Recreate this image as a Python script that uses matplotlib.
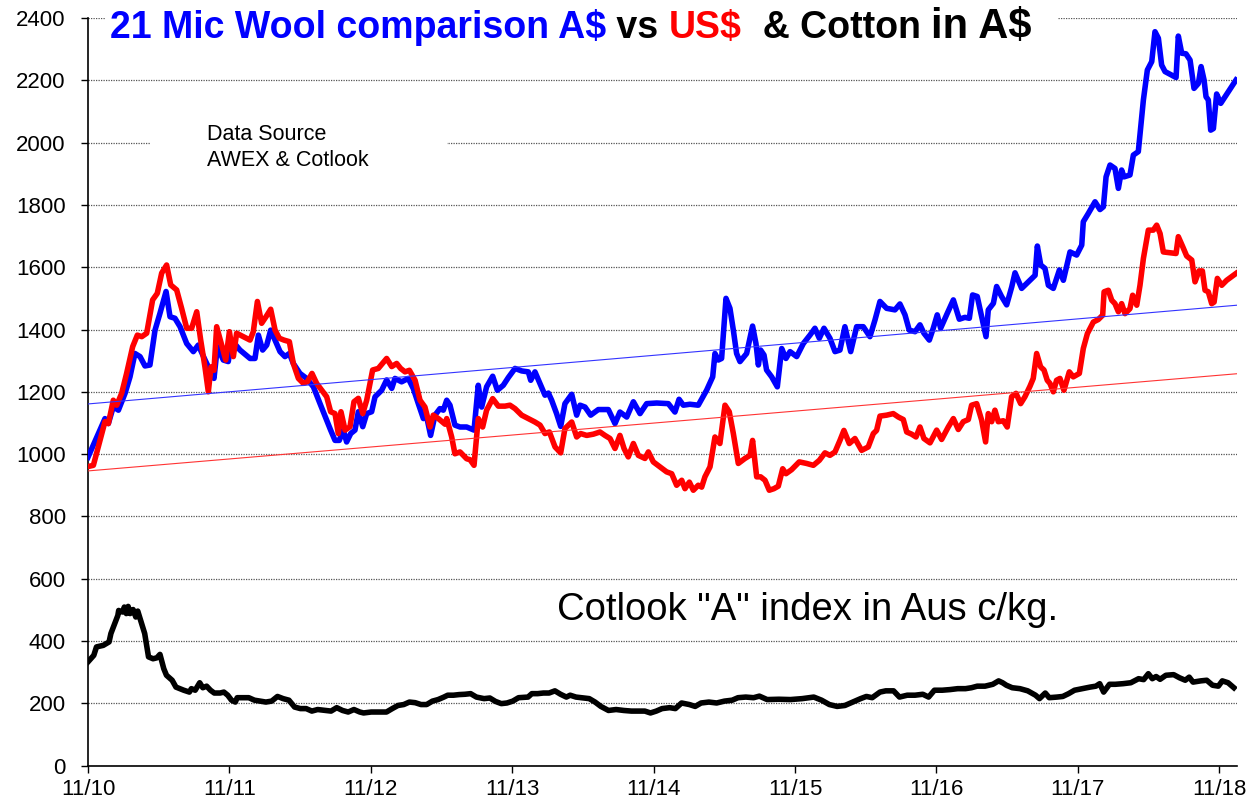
import matplotlib
matplotlib.use("Agg")
import matplotlib.pyplot as plt
from matplotlib.patches import Rectangle

plt.rcParams['font.family'] = ['Liberation Sans', 'DejaVu Sans']

# ---- data (x = years since Nov 2010) ----
years_labels = ["11/10", "11/11", "11/12", "11/13", "11/14", "11/15", "11/16", "11/17", "11/18"]
x_end = 8.126

wool_aud_t = [0.000, 0.120, 0.144, 0.179, 0.215, 0.262, 0.297, 0.332, 0.368, 0.403, 0.438, 0.474, 0.509, 0.552,
              0.580, 0.615, 0.651, 0.698, 0.745, 0.780, 0.830, 0.870, 0.891, 0.915, 0.957, 0.992, 1.016, 1.075,
              1.146, 1.181, 1.205, 1.235, 1.264, 1.292, 1.323, 1.358, 1.393, 1.424, 1.452, 1.499, 1.546, 1.594,
              1.641, 1.688, 1.716, 1.747, 1.777, 1.806, 1.829, 1.858, 1.888, 1.912, 1.943, 1.971, 2.006, 2.030,
              2.077, 2.112, 2.148, 2.171, 2.218, 2.265, 2.301, 2.336, 2.372, 2.395, 2.423, 2.454, 2.489, 2.513,
              2.537, 2.560, 2.595, 2.631, 2.678, 2.730, 2.760, 2.784, 2.819, 2.862, 2.895, 2.937, 2.973, 3.020,
              3.067, 3.114, 3.131, 3.161, 3.197, 3.232, 3.256, 3.279, 3.314, 3.343, 3.373, 3.421, 3.456, 3.480,
              3.515, 3.555, 3.609, 3.680, 3.727, 3.762, 3.810, 3.857, 3.904, 3.951, 4.022, 4.104, 4.151, 4.180,
              4.210, 4.257, 4.316, 4.375, 4.418, 4.434, 4.458, 4.481, 4.512, 4.540, 4.564, 4.587, 4.611, 4.658,
              4.700, 4.724, 4.741, 4.757, 4.781, 4.799, 4.835, 4.875, 4.906, 4.936, 4.965, 5.012, 5.059, 5.106,
              5.141, 5.172, 5.205, 5.247, 5.283, 5.318, 5.353, 5.394, 5.436, 5.483, 5.530, 5.566, 5.601, 5.648,
              5.707, 5.742, 5.778, 5.808, 5.849, 5.884, 5.912, 5.950, 5.978, 6.006, 6.030, 6.077, 6.120, 6.162,
              6.202, 6.233, 6.256, 6.289, 6.320, 6.351, 6.367, 6.403, 6.426, 6.461, 6.497, 6.533, 6.556, 6.603,
              6.639, 6.698, 6.714, 6.738, 6.768, 6.792, 6.827, 6.870, 6.898, 6.945, 6.992, 7.028, 7.039, 7.075,
              7.122, 7.157, 7.181, 7.200, 7.228, 7.263, 7.287, 7.310, 7.327, 7.369, 7.393, 7.428, 7.445, 7.464,
              7.492, 7.523, 7.546, 7.570, 7.593, 7.617, 7.695, 7.711, 7.735, 7.765, 7.794, 7.822, 7.853, 7.872,
              7.893, 7.907, 7.923, 7.940, 7.959, 7.982, 8.011, 8.119]
wool_aud = [990, 1114, 1098, 1152, 1141, 1195, 1248, 1323, 1313, 1283, 1286, 1398, 1452, 1522,
            1441, 1436, 1409, 1355, 1329, 1350, 1300, 1262, 1243, 1345, 1302, 1297, 1366, 1334,
            1307, 1307, 1382, 1334, 1350, 1398, 1366, 1329, 1313, 1323, 1291, 1259, 1243, 1216,
            1162, 1109, 1077, 1044, 1044, 1077, 1039, 1066, 1077, 1136, 1088, 1130, 1136, 1184,
            1205, 1238, 1211, 1243, 1232, 1243, 1210, 1162, 1114, 1120, 1060, 1125, 1146, 1141,
            1173, 1157, 1093, 1087, 1087, 1077, 1221, 1151, 1216, 1250, 1205, 1221, 1246, 1275,
            1267, 1264, 1237, 1264, 1226, 1189, 1196, 1173, 1130, 1089, 1162, 1192, 1125, 1157,
            1151, 1125, 1143, 1143, 1098, 1135, 1119, 1168, 1130, 1162, 1164, 1162, 1135, 1176,
            1157, 1160, 1157, 1205, 1248, 1323, 1302, 1307, 1500, 1468, 1398, 1323, 1297, 1323,
            1411, 1355, 1286, 1334, 1318, 1270, 1248, 1216, 1339, 1307, 1329, 1313, 1355, 1382,
            1404, 1372, 1404, 1372, 1329, 1334, 1409, 1329, 1409, 1409, 1377, 1431, 1490, 1468,
            1463, 1482, 1447, 1398, 1393, 1415, 1388, 1366, 1404, 1447, 1404, 1452, 1495, 1433,
            1439, 1436, 1511, 1506, 1441, 1377, 1463, 1484, 1538, 1506, 1479, 1537, 1582, 1532,
            1548, 1574, 1668, 1607, 1596, 1542, 1532, 1591, 1558, 1649, 1639, 1671, 1746, 1773,
            1810, 1785, 1794, 1890, 1928, 1917, 1853, 1912, 1890, 1896, 1960, 1971, 2051, 2137,
            2233, 2260, 2356, 2335, 2249, 2228, 2209, 2342, 2287, 2285, 2265, 2174, 2190, 2244,
            2201, 2147, 2137, 2040, 2045, 2156, 2126, 2201]

wool_usd_t = [0.000, 0.038, 0.120, 0.144, 0.179, 0.203, 0.238, 0.273, 0.316, 0.349, 0.380, 0.415, 0.457, 0.490,
              0.521, 0.556, 0.585, 0.627, 0.662, 0.698, 0.733, 0.769, 0.797, 0.827, 0.851, 0.870, 0.891, 0.910,
              0.945, 0.974, 1.000, 1.028, 1.051, 1.099, 1.146, 1.169, 1.198, 1.228, 1.259, 1.292, 1.323, 1.353,
              1.386, 1.424, 1.452, 1.488, 1.523, 1.551, 1.584, 1.617, 1.653, 1.688, 1.716, 1.747, 1.770, 1.789,
              1.818, 1.853, 1.881, 1.912, 1.943, 1.971, 2.013, 2.053, 2.112, 2.148, 2.183, 2.211, 2.242, 2.273,
              2.313, 2.348, 2.383, 2.419, 2.442, 2.478, 2.525, 2.537, 2.572, 2.595, 2.631, 2.678, 2.702, 2.730,
              2.760, 2.791, 2.819, 2.862, 2.902, 2.949, 2.984, 3.020, 3.067, 3.114, 3.161, 3.197, 3.232, 3.263,
              3.303, 3.343, 3.373, 3.421, 3.456, 3.484, 3.527, 3.574, 3.621, 3.656, 3.692, 3.727, 3.762, 3.791,
              3.821, 3.857, 3.892, 3.939, 3.963, 3.998, 4.045, 4.092, 4.128, 4.163, 4.199, 4.222, 4.253, 4.281,
              4.316, 4.340, 4.363, 4.399, 4.434, 4.469, 4.505, 4.535, 4.564, 4.599, 4.646, 4.682, 4.700, 4.729,
              4.757, 4.788, 4.818, 4.851, 4.882, 4.913, 4.936, 4.976, 5.030, 5.082, 5.130, 5.172, 5.212, 5.247,
              5.283, 5.318, 5.346, 5.384, 5.424, 5.471, 5.518, 5.554, 5.577, 5.601, 5.648, 5.695, 5.731, 5.766,
              5.790, 5.825, 5.856, 5.884, 5.912, 5.955, 6.002, 6.037, 6.084, 6.120, 6.155, 6.190, 6.226, 6.249,
              6.285, 6.320, 6.348, 6.367, 6.391, 6.414, 6.438, 6.473, 6.501, 6.532, 6.563, 6.596, 6.626, 6.662,
              6.685, 6.709, 6.737, 6.761, 6.784, 6.803, 6.827, 6.850, 6.874, 6.902, 6.940, 6.968, 7.011, 7.039,
              7.068, 7.110, 7.145, 7.176, 7.186, 7.216, 7.240, 7.263, 7.287, 7.310, 7.334, 7.369, 7.388, 7.417,
              7.440, 7.464, 7.499, 7.534, 7.558, 7.582, 7.605, 7.695, 7.711, 7.742, 7.770, 7.806, 7.829, 7.857,
              7.881, 7.900, 7.923, 7.947, 7.964, 7.987, 8.018, 8.053, 8.119]
wool_usd = [960, 964, 1104, 1098, 1173, 1157, 1195, 1259, 1345, 1382, 1377, 1388, 1495, 1516,
            1581, 1607, 1543, 1527, 1468, 1404, 1404, 1457, 1366, 1280, 1200, 1280, 1269, 1409,
            1350, 1302, 1393, 1313, 1388, 1377, 1366, 1393, 1490, 1420, 1441, 1465, 1398, 1372,
            1366, 1361, 1291, 1243, 1227, 1232, 1259, 1227, 1205, 1184, 1136, 1130, 1066, 1136,
            1077, 1088, 1168, 1179, 1130, 1173, 1270, 1275, 1307, 1281, 1291, 1275, 1264, 1269,
            1237, 1173, 1151, 1087, 1125, 1114, 1096, 1114, 1055, 1001, 1007, 985, 982, 964,
            1114, 1087, 1141, 1178, 1154, 1154, 1157, 1146, 1125, 1114, 1103, 1093, 1066, 1071,
            1023, 1004, 1082, 1103, 1055, 1066, 1060, 1064, 1071, 1060, 1050, 1018, 1060, 1018,
            991, 1034, 996, 986, 1007, 975, 959, 943, 937, 900, 916, 889, 910, 884,
            900, 894, 927, 959, 1055, 1034, 1157, 1136, 1066, 970, 986, 996, 1044, 927,
            927, 916, 884, 889, 897, 953, 937, 950, 975, 970, 964, 980, 1004, 996,
            1007, 1044, 1076, 1034, 1050, 1012, 1023, 1066, 1076, 1122, 1125, 1130, 1119, 1111,
            1071, 1064, 1055, 1087, 1050, 1036, 1077, 1047, 1087, 1114, 1079, 1104, 1111, 1157,
            1162, 1109, 1039, 1130, 1104, 1141, 1104, 1107, 1087, 1184, 1195, 1162, 1184, 1218,
            1243, 1323, 1280, 1270, 1237, 1227, 1200, 1237, 1243, 1205, 1264, 1248, 1259, 1339,
            1387, 1424, 1432, 1446, 1521, 1526, 1494, 1483, 1457, 1483, 1451, 1467, 1510, 1478,
            1542, 1628, 1719, 1719, 1735, 1708, 1649, 1644, 1698, 1666, 1636, 1623, 1553, 1588,
            1588, 1526, 1521, 1483, 1488, 1564, 1542, 1558, 1580]

cotton_t = [0.000, 0.041, 0.060, 0.108, 0.149, 0.162, 0.189, 0.211, 0.217, 0.244, 0.257, 0.271, 0.284, 0.298,
            0.319, 0.338, 0.352, 0.379, 0.401, 0.428, 0.460, 0.487, 0.509, 0.536, 0.555, 0.595, 0.622, 0.677,
            0.717, 0.731, 0.758, 0.790, 0.812, 0.839, 0.866, 0.893, 0.934, 0.961, 0.988, 1.015, 1.042, 1.055,
            1.096, 1.137, 1.177, 1.218, 1.258, 1.299, 1.340, 1.380, 1.421, 1.461, 1.502, 1.543, 1.583, 1.624,
            1.678, 1.719, 1.759, 1.800, 1.840, 1.881, 1.922, 1.949, 2.003, 2.057, 2.111, 2.152, 2.192, 2.233,
            2.273, 2.314, 2.355, 2.395, 2.436, 2.476, 2.517, 2.544, 2.585, 2.625, 2.666, 2.706, 2.747, 2.801,
            2.842, 2.882, 2.923, 2.963, 3.004, 3.045, 3.112, 3.139, 3.180, 3.221, 3.261, 3.302, 3.342, 3.383,
            3.410, 3.451, 3.491, 3.545, 3.586, 3.627, 3.681, 3.735, 3.789, 3.843, 3.897, 3.938, 3.978, 4.019,
            4.060, 4.114, 4.154, 4.198, 4.253, 4.294, 4.336, 4.391, 4.446, 4.501, 4.556, 4.597, 4.652, 4.707,
            4.748, 4.803, 4.886, 4.968, 5.051, 5.133, 5.188, 5.243, 5.298, 5.353, 5.409, 5.464, 5.505, 5.546,
            5.601, 5.642, 5.697, 5.739, 5.794, 5.849, 5.904, 5.945, 5.986, 6.041, 6.096, 6.151, 6.206, 6.248,
            6.289, 6.344, 6.399, 6.440, 6.468, 6.495, 6.536, 6.591, 6.646, 6.701, 6.729, 6.770, 6.798, 6.853,
            6.894, 6.935, 6.977, 7.032, 7.087, 7.128, 7.155, 7.183, 7.224, 7.265, 7.320, 7.375, 7.430, 7.466,
            7.499, 7.527, 7.554, 7.582, 7.623, 7.678, 7.719, 7.760, 7.788, 7.815, 7.870, 7.912, 7.953, 7.994,
            8.022, 8.063, 8.104]
cotton = [333, 354, 381, 386, 397, 424, 456, 482, 498, 493, 509, 488, 511, 488,
          501, 477, 496, 456, 424, 349, 343, 346, 357, 311, 290, 274, 252, 242,
          236, 247, 242, 266, 250, 255, 242, 233, 233, 236, 226, 210, 204, 218,
          218, 218, 210, 207, 204, 207, 222, 215, 210, 188, 183, 183, 175, 180,
          177, 175, 186, 177, 172, 180, 172, 169, 172, 172, 172, 183, 193, 196,
          204, 202, 196, 196, 207, 212, 220, 226, 226, 228, 229, 231, 220, 215,
          217, 206, 199, 201, 207, 218, 220, 231, 231, 233, 233, 240, 229, 220,
          226, 220, 218, 215, 204, 190, 177, 180, 177, 175, 175, 175, 169, 175,
          183, 186, 183, 201, 196, 190, 201, 204, 201, 207, 210, 218, 220, 218,
          223, 212, 213, 212, 215, 220, 210, 196, 190, 193, 204, 215, 222, 218,
          236, 240, 240, 220, 226, 226, 229, 220, 242, 242, 244, 247, 247, 250,
          255, 255, 261, 272, 266, 258, 250, 247, 240, 226, 215, 233, 218, 220,
          222, 231, 242, 247, 252, 255, 263, 236, 261, 261, 263, 266, 279, 276,
          295, 279, 286, 277, 290, 292, 282, 274, 284, 268, 272, 274, 258, 255,
          272, 266, 250]

trend_t = [0.0, x_end]
trend_aud = [1161, 1478]
trend_usd = [946, 1258]

# ---- figure ----
W, H = 1260, 800
fig = plt.figure(figsize=(12.6, 8.0), dpi=100)
ax = fig.add_axes([88 / W, 1 - 765.6 / H, (1237 - 88) / W, (765.6 - 18) / H])

ax.set_xlim(0, x_end)
ax.set_ylim(0, 2400)
ax.set_yticks(range(0, 2401, 200))
ax.set_xticks(range(len(years_labels)))
ax.set_xticklabels(years_labels)
ax.grid(axis='y', color='#555555', linestyle=(0, (1, 1)), linewidth=0.9)
ax.set_axisbelow(True)
for s in ['top', 'right']:
    ax.spines[s].set_visible(False)
for s in ['left', 'bottom']:
    ax.spines[s].set_linewidth(1.2)
ax.tick_params(axis='y', direction='out', length=5, width=1, pad=11, labelsize=16)
ax.tick_params(axis='x', direction='out', length=5, width=1, pad=5, labelsize=16)

ax.plot(wool_aud_t, wool_aud, color='#0000FF', lw=4.0, solid_joinstyle='round', zorder=3)
ax.plot(wool_usd_t, wool_usd, color='#FF0000', lw=4.0, solid_joinstyle='round', zorder=4)
ax.plot(cotton_t, cotton, color='#000000', lw=4.0, solid_joinstyle='round', zorder=4)
ax.plot(trend_t, trend_aud, color='#3333FF', lw=0.8, zorder=5)
ax.plot(trend_t, trend_usd, color='#FF3333', lw=0.8, zorder=5)

# white box behind title (hides top gridline)
fig.add_artist(Rectangle((105 / W, 1 - 48 / H), (1058 - 105) / W, 46 / H,
                         transform=fig.transFigure, facecolor='white', edgecolor='none', zorder=1))
# white box behind data source note
fig.add_artist(Rectangle((150 / W, 1 - 172 / H), (447 - 150) / W, 52 / H,
                         transform=fig.transFigure, facecolor='white', edgecolor='none', zorder=1))

fig.text(207 / W, 1 - 140 / H, 'Data Source', fontsize=15.5, va='baseline', ha='left', zorder=3)
fig.text(207 / W, 1 - 166 / H, 'AWEX & Cotlook', fontsize=15.5, va='baseline', ha='left', zorder=3)

ax.text(557 / W, 1 - 620 / H, 'Cotlook "A" index in Aus c/kg.', fontsize=27.5,
        transform=fig.transFigure, va='baseline', ha='left', zorder=6)

# multi-coloured title
pieces = [("21 Mic Wool comparison A$", '#0000FF', 27),
          (" vs ", 'black', 27),
          ("US$", '#FF0000', 27),
          ("  & Cotton ", 'black', 27),
          ("in A$", 'black', 30)]
fig.canvas.draw()
renderer = fig.canvas.get_renderer()
xpix = 110
for txt, col, fs in pieces:
    t = fig.text(xpix / W, 1 - 38 / H, txt, color=col, fontsize=fs, fontweight='bold',
                 va='baseline', ha='left', zorder=3)
    bb = t.get_window_extent(renderer)
    xpix = bb.x1

fig.savefig('out.png', dpi=100)
